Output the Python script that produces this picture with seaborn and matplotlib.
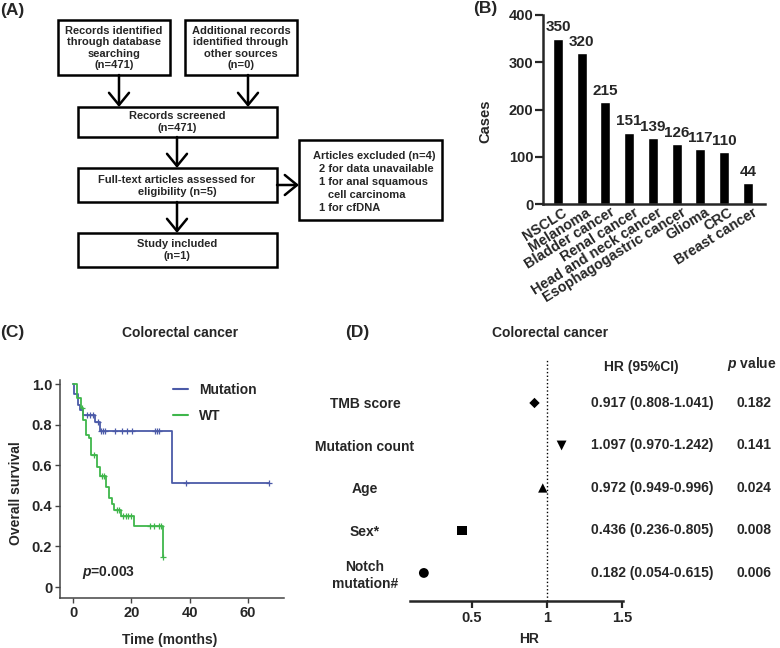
import numpy as np
import pandas as pd
import seaborn as sns
import matplotlib.pyplot as plt
from matplotlib.patches import Rectangle
from matplotlib.lines import Line2D
from matplotlib.transforms import ScaledTranslation

# (B) cases per cancer type
cancer_types = ['NSCLC', 'Melanoma', 'Bladder cancer', 'Renal cancer', 'Head and neck cancer',
                'Esophagogastric cancer', 'Glioma', 'CRC', 'Breast cancer']
cases = [350, 320, 215, 151, 139, 126, 117, 110, 44]

# (C) Kaplan-Meier steps
mut_times = [0, 0.5, 1.6, 2.5, 3.4, 7.6, 9.3, 34.0, 67.0]
mut_surv = [1.0, 0.951, 0.898, 0.874, 0.846, 0.811, 0.770, 0.514, 0.514]
mut_censor = [4.7, 5.8, 6.9, 8.4, 9.7, 10.3, 11.0, 14.4, 16.7, 18.4, 20.1, 28.1, 28.9, 29.6, 38.7, 67.0]
wt_times = [0, 1.3, 2.6, 3.5, 4.6, 5.4, 6.2, 8.2, 9.1, 11.4, 12.3, 13.2, 14.1, 16.4, 20.8, 30.8]
wt_surv = [1.0, 0.932, 0.880, 0.821, 0.750, 0.734, 0.649, 0.589, 0.545, 0.493, 0.438, 0.410,
           0.381, 0.351, 0.299, 0.149]
wt_censor = [3.0, 7.1, 9.9, 10.5, 15.1, 15.8, 17.3, 18.2, 19.0, 19.8, 26.5, 27.6, 29.3, 30.1, 30.8]

# (D) multivariate Cox results
factors = ['TMB score', 'Mutation count', 'Age', 'Sex*', 'Notch\nmutation#']
hr = [0.917, 1.097, 0.972, 0.436, 0.182]
hr_ci = ['0.917 (0.808-1.041)', '1.097 (0.970-1.242)', '0.972 (0.949-0.996)',
         '0.436 (0.236-0.805)', '0.182 (0.054-0.615)']
p_values = ['0.182', '0.141', '0.024', '0.008', '0.006']
factor_markers = ['D', 'v', '^', 's', 'o']
factor_sizes = [28, 50, 45, 45, 50]

sns.set_style('ticks')
plt.rcParams['font.family'] = ['Liberation Sans', 'DejaVu Sans']
plt.rcParams['font.weight'] = 'bold'
plt.rcParams['axes.labelweight'] = 'bold'
plt.rcParams['mathtext.fontset'] = 'custom'
plt.rcParams['mathtext.it'] = 'Liberation Sans:italic:bold'
plt.rcParams['mathtext.rm'] = 'Liberation Sans:bold'

W, H = 780, 648
fig = plt.figure(figsize=(W / 100, H / 100), dpi=100)


def px_axes(l, t, r, b):
    return fig.add_axes([l / W, 1 - b / H, (r - l) / W, (b - t) / H])


##################################################################
# (A) flow chart, drawn in pixel coordinates
##################################################################
axA = fig.add_axes([0, 0, 1, 1], zorder=-1)
axA.set_xlim(0, W)
axA.set_ylim(H, 0)
axA.axis('off')


def box(l, t, r, b):
    axA.add_patch(Rectangle((l, t), r - l, b - t, fill=False, lw=1.8, ec='black'))


def arrow(x0, y0, x1, y1):
    axA.annotate('', xy=(x1, y1), xytext=(x0, y0),
                 arrowprops=dict(arrowstyle='->,head_length=0.55,head_width=0.45', lw=1.8,
                                 color='black', mutation_scale=16, shrinkA=0, shrinkB=0))


fs_box = 8
box(58, 20, 170, 75)
axA.text(114, 48, 'Records identified\nthrough database\nsearching\n(n=471)', ha='center', va='center',
         fontsize=fs_box, linespacing=1.2)
box(185, 20, 297, 75)
axA.text(241, 48, 'Additional records\nidentified through\nother sources\n(n=0)', ha='center', va='center',
         fontsize=fs_box, linespacing=1.2)
arrow(119, 75, 119, 107)
arrow(248, 75, 248, 107)
box(78, 107, 277, 137)
axA.text(177, 122, 'Records screened\n(n=471)', ha='center', va='center', fontsize=fs_box, linespacing=1.2)
arrow(177, 137, 177, 168)
box(78, 168, 277, 202)
axA.text(177, 186, 'Full-text articles assessed for\neligibility (n=5)', ha='center', va='center',
         fontsize=fs_box, linespacing=1.2)
arrow(277, 185, 299, 185)
box(299, 140, 442, 220)
for x, y, s in [(313, 156, 'Articles excluded (n=4)'), (319, 169, '2 for data unavailable'),
                (319, 182, '1 for anal squamous'), (328, 195, 'cell carcinoma'), (319, 208, '1 for cfDNA')]:
    axA.text(x, y, s, ha='left', va='center', fontsize=fs_box)
arrow(177, 202, 177, 233)
box(78, 233, 277, 267)
axA.text(177, 250, 'Study included\n(n=1)', ha='center', va='center', fontsize=fs_box, linespacing=1.2)

# panel letters and titles
for x, y, s in [(0, 11, '(A)'), (473, 9, '(B)'), (0, 333, '(C)'), (345, 333, '(D)')]:
    axA.text(x, y, s, ha='left', va='center', fontsize=12.5)
axA.text(180, 333, 'Colorectal cancer', ha='center', va='center', fontsize=10)
axA.text(550, 333, 'Colorectal cancer', ha='center', va='center', fontsize=10)

##################################################################
# (B) bar chart of cases
##################################################################
axB = px_axes(543, 15, 765, 204)
sns.barplot(x=cancer_types, y=cases, color='black', width=0.42, saturation=1, ax=axB)
axB.bar_label(axB.containers[0], fontsize=11, fontweight='bold', padding=3)
axB.set_xlim(-0.63, 8.72)
axB.set_ylim(0, 400)
axB.set_yticks([0, 100, 200, 300, 400])
axB.set_ylabel('Cases', fontsize=10.5)
axB.yaxis.set_label_coords(-0.23, 0.44)
sns.despine(ax=axB)
for sp in ['left', 'bottom']:
    axB.spines[sp].set_linewidth(1.8)
axB.tick_params(axis='y', length=6, width=1.6, pad=1, labelsize=10.5)
axB.tick_params(axis='x', length=0, pad=1)
shift = ScaledTranslation(4 / 100, 0, fig.dpi_scale_trans)
for lab in axB.get_xticklabels():
    lab.set_rotation(32)
    lab.set_ha('right')
    lab.set_va('top')
    lab.set_rotation_mode('anchor')
    lab.set_fontsize(10.3)
    lab.set_fontweight('bold')
    lab.set_transform(lab.get_transform() + shift)

##################################################################
# (C) Kaplan-Meier curves
##################################################################
blue = '#4b5aa8'
green = '#3fb64b'
axC = px_axes(60, 380, 284, 598)
kmFrame = pd.concat([
    pd.DataFrame({'time': mut_times, 'surv': mut_surv, 'group': 'Mutation'}),
    pd.DataFrame({'time': wt_times, 'surv': wt_surv, 'group': 'WT'}),
])
sns.lineplot(data=kmFrame, x='time', y='surv', hue='group', palette={'Mutation': blue, 'WT': green},
             drawstyle='steps-post', estimator=None, legend=False, lw=1.3, ax=axC)


def step_at(times, surv, t):
    idx = np.searchsorted(times, t, side='right') - 1
    return np.asarray(surv)[idx]


sns.scatterplot(x=mut_censor, y=step_at(mut_times, mut_surv, mut_censor), marker='+', s=14,
                color=blue, linewidth=0.9, ax=axC)
sns.scatterplot(x=wt_censor, y=step_at(wt_times, wt_surv, wt_censor), marker='+', s=14,
                color=green, linewidth=0.9, ax=axC)
axC.set_xlim(-4.46, 72.3)
axC.set_ylim(-0.054, 1.02)
axC.set_xticks([0, 20, 40, 60])
axC.set_yticks([0, 0.2, 0.4, 0.6, 0.8, 1.0])
axC.set_yticklabels(['0', '0.2', '0.4', '0.6', '0.8', '1.0'])
axC.set_xlabel('Time (months)', fontsize=10)
axC.set_ylabel('Overall survival', fontsize=10)
axC.xaxis.set_label_coords(0.49, -0.16)
axC.yaxis.set_label_coords(-0.165, 0.48)
sns.despine(ax=axC)
for sp in ['left', 'bottom']:
    axC.spines[sp].set_linewidth(1.1)
    axC.spines[sp].set_color('#444444')
axC.tick_params(length=3.5, width=1.0, color='#444444', pad=2, labelsize=10.5)
axC.text(3.1, 0.074, '$p$=0.003', ha='left', va='center', fontsize=10)
handles = [Line2D([], [], color=blue, lw=1.5), Line2D([], [], color=green, lw=1.5)]
axC.legend(handles, ['Mutation', 'WT'], loc='upper left', bbox_to_anchor=(173 / W, 1 - 383 / H),
           bbox_transform=fig.transFigure, frameon=False, fontsize=10, handlelength=1.1,
           handletextpad=0.8, labelspacing=0.85, borderpad=0, borderaxespad=0)

##################################################################
# (D) forest plot
##################################################################
axD = px_axes(410, 359, 623, 601)
rows = np.arange(len(factors))
sns.scatterplot(x=hr, y=rows, style=factors, markers=dict(zip(factors, factor_markers)),
                size=factors, sizes=dict(zip(factors, factor_sizes)), color='black',
                edgecolor='black', linewidth=0, legend=False, ax=axD)
axD.axvline(1, ls=':', lw=1.0, color='black')
axD.set_xlim(0.09, 1.505)
axD.set_ylim(4.66, -1.035)
axD.set_xticks([0.5, 1, 1.5])
axD.set_xticklabels(['0.5', '1', '1.5'])
axD.set_yticks(rows)
axD.set_yticklabels(factors)
for lab in axD.get_yticklabels():
    lab.set_ha('center')
    lab.set_multialignment('center')
axD.tick_params(axis='y', length=0, pad=32.4, labelsize=10)
axD.tick_params(axis='x', length=5, width=1.6, pad=2, labelsize=10.5)
axD.set_xlabel('HR', fontsize=10)
axD.set_ylabel('')
axD.xaxis.set_label_coords(0.559, -0.128)
sns.despine(ax=axD, left=True)
axD.spines['bottom'].set_linewidth(1.8)
axD.text(1.626, -0.85, 'HR (95%CI)', ha='center', va='center', fontsize=10, clip_on=False)
axD.text(2.36, -0.92, '$p$ value', ha='center', va='center', fontsize=10, clip_on=False)
for i in rows:
    axD.text(1.70, i, hr_ci[i], ha='center', va='center', fontsize=10, clip_on=False)
    axD.text(2.374, i, p_values[i], ha='center', va='center', fontsize=10, clip_on=False)

fig.savefig('out.png', dpi=100)
